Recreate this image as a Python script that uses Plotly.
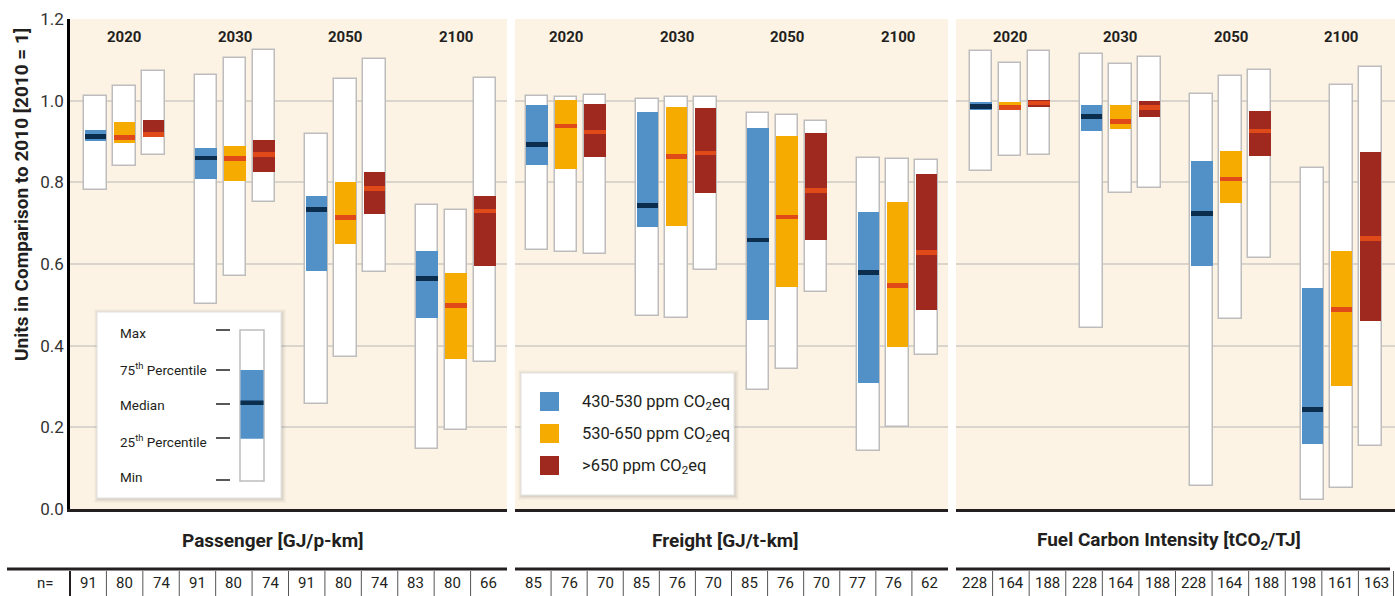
import plotly.graph_objects as go

W, H = 1395, 596

# ---------------- data ----------------
years = ["2020", "2030", "2050", "2100"]
scenarios = ["430-530 ppm CO<sub>2</sub>eq", "530-650 ppm CO<sub>2</sub>eq", ">650 ppm CO<sub>2</sub>eq"]
panel_titles = ["Passenger [GJ/p-km]", "Freight [GJ/t-km]", "Fuel Carbon Intensity [tCO<sub>2</sub>/TJ]"]
y_ticks = [0.0, 0.2, 0.4, 0.6, 0.8, 1.0, 1.2]
y_ticktext = ["0.0", "0.2", "0.4", "0.6", "0.8", "1.0", "1.2"]

# order: 2020 (430-530, 530-650, >650), 2030 (...), 2050 (...), 2100 (...)
passenger_max = [1.012, 1.037, 1.073, 1.064, 1.105, 1.125, 0.919, 1.053, 1.102, 0.744, 0.733, 1.056]
passenger_q3 = [0.928, 0.948, 0.953, 0.884, 0.889, 0.904, 0.766, 0.801, 0.825, 0.632, 0.578, 0.766]
passenger_med = [0.912, 0.910, 0.918, 0.860, 0.858, 0.869, 0.734, 0.714, 0.785, 0.564, 0.498, 0.730]
passenger_q1 = [0.902, 0.897, 0.910, 0.808, 0.803, 0.825, 0.583, 0.649, 0.722, 0.468, 0.367, 0.595]
passenger_min = [0.781, 0.840, 0.867, 0.502, 0.570, 0.752, 0.257, 0.373, 0.581, 0.146, 0.193, 0.360]

freight_max = [1.012, 1.008, 1.015, 1.004, 1.008, 1.008, 0.969, 0.965, 0.950, 0.860, 0.858, 0.855]
freight_q3 = [0.989, 1.001, 0.992, 0.972, 0.985, 0.982, 0.933, 0.913, 0.921, 0.727, 0.752, 0.820]
freight_med = [0.892, 0.938, 0.923, 0.744, 0.864, 0.872, 0.659, 0.715, 0.780, 0.580, 0.548, 0.628]
freight_q1 = [0.843, 0.833, 0.863, 0.690, 0.693, 0.774, 0.463, 0.544, 0.659, 0.308, 0.397, 0.488]
freight_min = [0.634, 0.629, 0.624, 0.472, 0.467, 0.585, 0.291, 0.342, 0.531, 0.141, 0.200, 0.377]

fuel_max = [1.122, 1.092, 1.122, 1.115, 1.091, 1.106, 1.017, 1.061, 1.075, 0.836, 1.038, 1.083]
fuel_q3 = [0.997, 0.997, 1.002, 0.989, 0.989, 0.999, 0.852, 0.877, 0.974, 0.542, 0.632, 0.874]
fuel_med = [0.986, 0.984, 0.994, 0.961, 0.949, 0.984, 0.723, 0.808, 0.926, 0.244, 0.489, 0.663]
fuel_q1 = [0.976, 0.977, 0.985, 0.926, 0.931, 0.960, 0.596, 0.750, 0.865, 0.159, 0.301, 0.460]
fuel_min = [0.827, 0.865, 0.867, 0.444, 0.775, 0.786, 0.056, 0.465, 0.615, 0.021, 0.052, 0.154]

n_passenger = [91, 80, 74, 91, 80, 74, 91, 80, 74, 83, 80, 66]
n_freight = [85, 76, 70, 85, 76, 70, 85, 76, 70, 77, 76, 62]
n_fuel = [228, 164, 188, 228, 164, 188, 228, 164, 188, 198, 161, 163]

# ---------------- styling ----------------
FONT = "Roboto, Open Sans, sans-serif"
fill_colors = ["#5290c8", "#f6ab00", "#a0291f"]
median_colors = ["#0b2d4e", "#e04a18", "#e04a18"]
BG = "#fdf3e4"
GRID = "#d9d4cc"
OUTLINE = "#bdbdbd"
DARK = "#231f20"

GROUP_STEP = 3.81
BOX_W = 0.79


def px(x):
    return x / W


def py(y):
    return 1 - y / H


def note(x, y, text, size, xanchor="center", **kw):
    return dict(x=px(x), y=py(y), xref="paper", yref="paper", text=text, showarrow=False,
                xanchor=xanchor, yanchor="middle", font=dict(size=size, color=DARK, family=FONT), **kw)


panels = [
    dict(maxv=passenger_max, q3=passenger_q3, med=passenger_med, q1=passenger_q1, minv=passenger_min,
         n=n_passenger, dom=(70, 507), rng=(-0.879, 14.19), title_x=272),
    dict(maxv=freight_max, q3=freight_q3, med=freight_med, q1=freight_q1, minv=freight_min,
         n=n_freight, dom=(515, 948), rng=(-0.759, 14.17), title_x=725),
    dict(maxv=fuel_max, q3=fuel_q3, med=fuel_med, q1=fuel_q1, minv=fuel_min,
         n=n_fuel, dom=(956, 1395), rng=(-0.862, 14.28), title_x=1169),
]

fig = go.Figure()
annotations = []
shapes = []

for p_i, p in enumerate(panels):
    xa = "x" if p_i == 0 else f"x{p_i + 1}"
    ya = "y" if p_i == 0 else f"y{p_i + 1}"
    for k in range(3):
        idx = [g * 3 + k for g in range(len(years))]
        xs = [g * GROUP_STEP + k for g in range(len(years))]
        mx = [p["maxv"][i] for i in idx]
        mn = [p["minv"][i] for i in idx]
        fig.add_trace(go.Bar(x=xs, y=[a - b for a, b in zip(mx, mn)], base=mn, width=BOX_W,
                             marker=dict(color="white", line=dict(color=OUTLINE, width=1.5)),
                             xaxis=xa, yaxis=ya, showlegend=False, hoverinfo="skip"))
    for k in range(3):
        idx = [g * 3 + k for g in range(len(years))]
        xs = [g * GROUP_STEP + k for g in range(len(years))]
        q3 = [p["q3"][i] for i in idx]
        q1 = [p["q1"][i] for i in idx]
        fig.add_trace(go.Bar(x=xs, y=[a - b for a, b in zip(q3, q1)], base=q1, width=BOX_W - 0.05,
                             marker=dict(color=fill_colors[k], line=dict(width=0)),
                             xaxis=xa, yaxis=ya, showlegend=False, hoverinfo="skip"))
    for k in range(3):
        idx = [g * 3 + k for g in range(len(years))]
        xs = [g * GROUP_STEP + k for g in range(len(years))]
        md = [p["med"][i] for i in idx]
        fig.add_trace(go.Bar(x=xs, y=[0.0115] * len(md), base=[m - 0.0058 for m in md], width=BOX_W - 0.05,
                             marker=dict(color=median_colors[k], line=dict(width=0)),
                             xaxis=xa, yaxis=ya, showlegend=False, hoverinfo="skip"))
    # year labels
    for g, yr in enumerate(years):
        annotations.append(dict(x=g * GROUP_STEP + 1, y=1.157, xref=xa, yref=ya, text=f"<b>{yr}</b>",
                                showarrow=False, xanchor="center", yanchor="middle",
                                font=dict(size=15, color=DARK, family=FONT)))
    # panel title
    annotations.append(note(p["title_x"], 540, f"<b>{panel_titles[p_i]}</b>", 19))
    # table
    a, b = p["dom"]
    cw = (b - a) / 12
    for i, v in enumerate(p["n"]):
        annotations.append(note(a + (i + 0.5) * cw, 583, str(v), 15))
    for i in range(1, 12):
        shapes.append(dict(type="line", xref="paper", yref="paper", x0=px(a + i * cw), x1=px(a + i * cw),
                           y0=py(571), y1=py(596), line=dict(color="#555555", width=1)))
    lx0 = 7 if p_i == 0 else a
    lx1 = 1390 if p_i == 2 else b
    shapes.append(dict(type="line", xref="paper", yref="paper", x0=px(lx0), x1=px(lx1),
                       y0=py(569), y1=py(569), line=dict(color=DARK, width=3)))

# table extra separators
shapes.append(dict(type="line", xref="paper", yref="paper", x0=px(70), x1=px(70), y0=py(571), y1=py(596),
                   line=dict(color=DARK, width=2)))
shapes.append(dict(type="line", xref="paper", yref="paper", x0=px(1393.5), x1=px(1393.5), y0=py(571), y1=py(596),
                   line=dict(color="#555555", width=1)))
annotations.append(note(45, 583, "n=", 15))

# y title
annotations.append(note(21, 195, "<b>Units in Comparison to 2010 [2010 = 1]</b>", 19, textangle=-90))


def add_box_frame(x0, y0, x1, y1):
    for d, op in [(4, 0.05), (3, 0.06), (2, 0.08), (1, 0.10)]:
        shapes.append(dict(type="rect", xref="paper", yref="paper", x0=px(x0 - d + 1), x1=px(x1 + d + 1),
                           y0=py(y0 - d + 1), y1=py(y1 + d + 1), fillcolor="#808080", opacity=op,
                           line=dict(width=0)))
    shapes.append(dict(type="rect", xref="paper", yref="paper", x0=px(x0), x1=px(x1), y0=py(y0), y1=py(y1),
                       fillcolor="white", line=dict(color="#e2e2e2", width=1)))


# explanation legend (panel 1)
add_box_frame(97, 312, 281, 498)
expl_labels = ["Max", "75<sup>th</sup> Percentile", "Median", "25<sup>th</sup> Percentile", "Min"]
expl_label_y = [333, 369, 405, 441, 477]
expl_dash_y = [330, 370, 404, 438, 480]
for lab, ly, dy in zip(expl_labels, expl_label_y, expl_dash_y):
    annotations.append(note(118, ly, lab, 13.5, xanchor="left"))
    shapes.append(dict(type="line", xref="paper", yref="paper", x0=px(216), x1=px(230), y0=py(dy), y1=py(dy),
                       line=dict(color=DARK, width=1.5)))
shapes.append(dict(type="rect", xref="paper", yref="paper", x0=px(240), x1=px(264), y0=py(330), y1=py(481),
                   fillcolor="white", line=dict(color=OUTLINE, width=1.5)))
shapes.append(dict(type="rect", xref="paper", yref="paper", x0=px(240.5), x1=px(263.5), y0=py(370), y1=py(438.7),
                   fillcolor=fill_colors[0], line=dict(width=0)))
shapes.append(dict(type="rect", xref="paper", yref="paper", x0=px(240.5), x1=px(263.5), y0=py(400.5), y1=py(405),
                   fillcolor=median_colors[0], line=dict(width=0)))

# colour legend (panel 2)
add_box_frame(521, 373, 734, 495)
for k, (lab, cy) in enumerate(zip(scenarios, [401.5, 433.5, 465.5])):
    shapes.append(dict(type="rect", xref="paper", yref="paper", x0=px(540), x1=px(559), y0=py(cy - 9.5),
                       y1=py(cy + 9.5), fillcolor=fill_colors[k], line=dict(width=0)))
    annotations.append(note(580, cy + 1, lab, 16.5, xanchor="left"))

ydom = [py(509), py(19)]
layout = dict(
    width=W, height=H, margin=dict(l=0, r=0, t=0, b=0, pad=0, autoexpand=False),
    paper_bgcolor="white", plot_bgcolor=BG, barmode="overlay", bargap=0,
    showlegend=False, font=dict(family=FONT, color=DARK),
    annotations=annotations, shapes=shapes,
)
for p_i, p in enumerate(panels):
    sx = "" if p_i == 0 else str(p_i + 1)
    layout["xaxis" + sx] = dict(domain=[px(p["dom"][0]), px(p["dom"][1])], range=list(p["rng"]),
                                anchor="y" + sx, showgrid=False, zeroline=False, showticklabels=False,
                                ticks="", showline=True, linecolor=DARK, linewidth=2.5, fixedrange=True,
                                automargin=False)
    yd = dict(domain=ydom, range=[0, 1.2], anchor="x" + sx, tickvals=y_ticks, ticktext=y_ticktext,
              showgrid=True, gridcolor=GRID, gridwidth=1.5, zeroline=False, fixedrange=True, automargin=False)
    if p_i == 0:
        yd.update(showline=True, linecolor="black", linewidth=2.5, ticks="", ticklen=0,
                  tickfont=dict(size=17, color="#333333", family=FONT))
    else:
        yd.update(showline=False, showticklabels=False, matches="y")
    layout["yaxis" + sx] = yd

fig.update_layout(**layout)
fig.write_html("out.html", config=dict(displayModeBar=False),
               post_script="document.body.style.margin='0px';document.body.style.overflow='hidden';")
